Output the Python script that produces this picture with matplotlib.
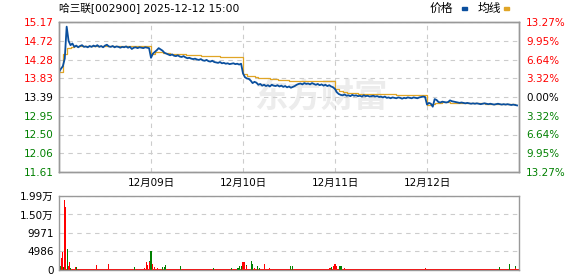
import matplotlib
matplotlib.use("Agg")
import numpy as np
from matplotlib import pyplot as plt
from matplotlib.patches import Rectangle

plt.rcParams['font.family'] = ['DejaVu Sans', 'Noto Sans CJK SC']

# data: 5 trading days, 240 minutes each, one price per 5 min
day_labels = ["12月09日", "12月10日", "12月11日", "12月12日"]
prev_close = 13.39
price_ticks = [15.17, 14.72, 14.28, 13.83, 13.39, 12.95, 12.50, 12.06, 11.61]
pct_labels = ["13.27%", "9.95%", "6.64%", "3.32%", "0.00%", "3.32%", "6.64%", "9.95%", "13.27%"]
vol_ticks = [0, 4986, 9971, 14957, 19942]
vol_labels = ["0", "4986", "9971", "1.50万", "1.99万"]

price_d1 = [13.98, 14.06, 14.12, 14.30, 15.06, 14.72, 14.62, 14.66, 14.58, 14.61,
            14.57, 14.60, 14.62, 14.58, 14.59, 14.57, 14.60, 14.58, 14.61, 14.59,
            14.62, 14.58, 14.60, 14.57, 14.61, 14.63, 14.59, 14.58, 14.60, 14.57,
            14.59, 14.58, 14.56, 14.58, 14.57, 14.59, 14.56, 14.58, 14.53, 14.56,
            14.57, 14.55, 14.57, 14.56, 14.55, 14.57, 14.56, 14.55]
price_d2 = [14.32, 14.42, 14.46, 14.50, 14.55, 14.52, 14.49, 14.44, 14.42, 14.40,
            14.38, 14.40, 14.37, 14.36, 14.38, 14.35, 14.34, 14.36, 14.33, 14.31,
            14.32, 14.30, 14.29, 14.30, 14.28, 14.27, 14.29, 14.26, 14.25, 14.27,
            14.24, 14.23, 14.25, 14.22, 14.21, 14.20, 14.22, 14.19, 14.20, 14.18,
            14.19, 14.17, 14.18, 14.19, 14.17, 14.18, 14.16, 14.18]
price_d3 = [13.95, 13.86, 13.83, 13.82, 13.78, 13.72, 13.75, 13.73, 13.68, 13.70,
            13.66, 13.68, 13.65, 13.67, 13.64, 13.68, 13.66, 13.65, 13.67, 13.64,
            13.66, 13.63, 13.65, 13.62, 13.64, 13.61, 13.63, 13.65, 13.68, 13.70,
            13.71, 13.69, 13.72, 13.70, 13.71, 13.69, 13.72, 13.70, 13.68, 13.70,
            13.67, 13.69, 13.66, 13.68, 13.65, 13.67, 13.64, 13.62]
price_d4 = [13.58, 13.50, 13.46, 13.44, 13.43, 13.45, 13.42, 13.43, 13.41, 13.44,
            13.42, 13.43, 13.41, 13.42, 13.40, 13.43, 13.41, 13.42, 13.40, 13.41,
            13.42, 13.40, 13.41, 13.39, 13.40, 13.38, 13.40, 13.37, 13.38, 13.36,
            13.38, 13.37, 13.36, 13.38, 13.37, 13.35, 13.37, 13.36, 13.38, 13.37,
            13.36, 13.38, 13.37, 13.36, 13.38, 13.39, 13.40, 13.39]
price_d5 = [13.21, 13.25, 13.23, 13.16, 13.34, 13.32, 13.27, 13.26, 13.28, 13.27,
            13.26, 13.27, 13.31, 13.29, 13.28, 13.27, 13.26, 13.25, 13.26, 13.25,
            13.24, 13.25, 13.24, 13.23, 13.24, 13.23, 13.24, 13.23, 13.22, 13.23,
            13.24, 13.23, 13.22, 13.23, 13.22, 13.21, 13.22, 13.23, 13.22, 13.21,
            13.22, 13.21, 13.22, 13.21, 13.20, 13.21, 13.20, 13.19]

# average price line, one value per 10 min
avg_d1 = [13.99, 14.40, 14.55, 14.58, 14.59, 14.59, 14.59, 14.59, 14.59, 14.59, 14.59, 14.59,
          14.59, 14.59, 14.59, 14.59, 14.59, 14.59, 14.59, 14.59, 14.59, 14.59, 14.59, 14.59]
avg_d2 = [14.40, 14.45, 14.45, 14.44, 14.43, 14.42, 14.41, 14.41, 14.40, 14.39, 14.39, 14.38,
          14.38, 14.37, 14.37, 14.37, 14.36, 14.36, 14.35, 14.34, 14.34, 14.33, 14.33, 14.33]
avg_d3 = [13.93, 13.90, 13.88, 13.86, 13.85, 13.84, 13.83, 13.82, 13.81, 13.80, 13.79, 13.79,
          13.78, 13.78, 13.78, 13.77, 13.77, 13.77, 13.77, 13.77, 13.76, 13.76, 13.76, 13.76]
avg_d4 = [13.58, 13.53, 13.51, 13.49, 13.48, 13.48, 13.47, 13.47, 13.46, 13.46, 13.46, 13.45,
          13.45, 13.45, 13.45, 13.45, 13.44, 13.44, 13.44, 13.44, 13.44, 13.44, 13.44, 13.44]
avg_d5 = [13.21, 13.22, 13.24, 13.25, 13.26, 13.26, 13.25, 13.25, 13.25, 13.25, 13.24, 13.24,
          13.24, 13.24, 13.24, 13.23, 13.23, 13.23, 13.23, 13.23, 13.23, 13.23, 13.23, 13.22]

# volume: quiet level per day plus the visible bars (minute index, volume, up?)
base_vol = [300, 250, 250, 250, 250]
spike_min = [0, 3, 6, 8, 11, 13, 15, 18, 21, 23, 26, 28, 31, 44, 46, 99, 130, 196,
             223, 229, 232, 235, 237, 240, 243, 245, 248, 258, 269, 274, 277, 318, 402,
             449, 467, 470, 472, 477, 480, 483, 485, 488, 490, 503, 506, 509, 519, 522,
             537, 550, 603, 605, 610, 707, 710, 715, 717, 720, 723, 733, 736, 746, 957,
             1150, 1174, 1190, 1192]
spike_vol = [1570, 1015, 3324, 4894, 460, 830, 18744, 17082, 5725, 3324, 1015, 2124, 460,
             740, 740, 1290, 1570, 740,
             460, 2124, 1385, 2493, 2216, 5170, 1570, 740, 740, 460, 740, 740, 1290, 1015, 460,
             460, 460, 740, 1015, 1015, 2124, 2124, 1290, 1290, 1015, 2400, 1570, 460, 1015, 460,
             1570, 460, 460, 1015, 1015, 460, 740, 460, 1015, 1570, 1015, 1015, 1015, 460, 460,
             740, 1570, 1015, 460]
spike_up = [0, 0, 1, 1, 1, 0, 1, 1, 0, 0, 1, 1, 0, 1, 0, 1, 1, 0,
            1, 1, 1, 0, 1, 0, 1, 1, 1, 1, 0, 0, 0, 0, 0,
            0, 0, 0, 0, 0, 1, 1, 1, 0, 1, 0, 0, 1, 0, 0,
            1, 1, 0, 0, 0, 1, 0, 1, 1, 1, 1, 0, 0, 1, 1,
            0, 0, 0, 1]

price = price_d1 + price_d2 + price_d3 + price_d4 + price_d5
avg = avg_d1 + avg_d2 + avg_d3 + avg_d4 + avg_d5
price_x = np.arange(len(price)) * 5
avg_x = np.arange(len(avg)) * 10

RED, GREEN = "#ff0000", "#008000"
GRID = dict(color="#cccccc", linestyle=(0, (4, 4)), linewidth=0.8)

fig = plt.figure(figsize=(5.78, 2.76), dpi=100)
ax = fig.add_axes([59/578, 104/276, 460/578, 150/276])
axv = fig.add_axes([59/578, 6/276, 460/578, 74/276])

# price panel
ax.text(0.57, 0.49, "东方财富", transform=ax.transAxes, fontsize=24, color="#ececec",
        fontweight="bold", ha="center", va="center", zorder=0, family="Noto Sans CJK SC")
ax.plot(avg_x, avg, color="#e0a526", lw=0.9, drawstyle="steps-post", zorder=2)
ax.plot(price_x, price, color="#0a4f9e", lw=1.3, zorder=3)
ax.set_xlim(0, 1200)
ax.set_ylim(price_ticks[-1], price_ticks[0])
ax.set_yticks(price_ticks)
ax.set_yticklabels([f"{t:.2f}" for t in price_ticks])
ax.set_xticks([240, 480, 720, 960])
ax.set_xticklabels(day_labels)
ax.tick_params(length=0, labelsize=7.5, pad=4)
ax.grid(True, **GRID)
ax.set_axisbelow(True)

ax2 = ax.twinx()
ax2.set_ylim(price_ticks[-1], price_ticks[0])
ax2.set_yticks(price_ticks)
ax2.set_yticklabels(pct_labels)
ax2.tick_params(length=0, labelsize=7.5, pad=5)

for lab_l, lab_r, t in zip(ax.get_yticklabels(), ax2.get_yticklabels(), price_ticks):
    c = RED if t > prev_close else (GREEN if t < prev_close else "black")
    lab_l.set_color(c)
    lab_r.set_color(c)

# volume panel
day_start = [0, 240, 480, 720, 960]
axv.bar(day_start, base_vol, width=240, align="edge", color=RED, lw=0)
spike_col = [RED if u else GREEN for u in spike_up]
axv.bar(spike_min, spike_vol, width=2.7, color=spike_col, lw=0, antialiased=False)
axv.set_xlim(0, 1200)
axv.set_ylim(0, vol_ticks[-1])
axv.set_yticks(vol_ticks)
axv.set_yticklabels(vol_labels)
axv.set_xticks([])
axv.tick_params(length=0, labelsize=7.5, pad=4)
axv.grid(True, axis="y", **GRID)
axv.set_axisbelow(True)

for a in (ax, ax2, axv):
    for s in a.spines.values():
        s.set_color("#999999")
        s.set_linewidth(1)

# header
fig.text(59/578, 1 - 8/276, "哈三联[002900] 2025-12-12 15:00", fontsize=7.7,
         va="center", ha="left")
fig.text(430/578, 1 - 8/276, "价格", fontsize=8.5, va="center", ha="left")
fig.text(478/578, 1 - 8/276, "均线", fontsize=8.5, va="center", ha="left")
fig.add_artist(Rectangle((462/578, 1 - 10/276), 5/578, 3/276, color="#0a4f9e",
                         transform=fig.transFigure))
fig.add_artist(Rectangle((504/578, 1 - 10/276), 5/578, 3/276, color="#e0a526",
                         transform=fig.transFigure))

fig.savefig("out.png", dpi=100)
